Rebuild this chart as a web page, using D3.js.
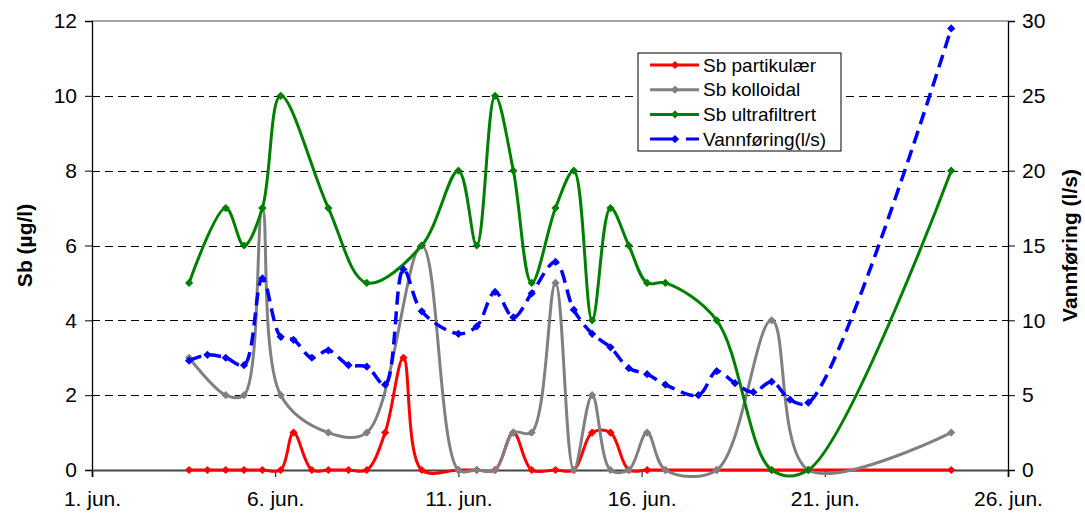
<!DOCTYPE html>
<html>
<head>
<meta charset="utf-8">
<script src="https://cdn.jsdelivr.net/npm/d3@7"></script>
<style>
  body { margin: 0; background: #fff; }
  svg { display: block; font-family: "Liberation Sans", Arial, sans-serif; }
</style>
</head>
<body>
<div id="chart"></div>
<script>
'use strict';

//sample times, day of June (fractional)
const times = [3.65, 4.15, 4.65, 5.15, 5.65, 6.15, 6.5, 7.0, 7.45, 8.0, 8.5, 9.0, 9.5, 10.0,
               11.0, 11.5, 12.0, 12.5, 13.0, 13.65, 14.15, 14.65, 15.15, 15.65, 16.15, 16.65,
               17.55, 18.05, 18.55, 19.05, 19.55, 20.05, 20.55, 24.45];

//Sb in ug/l, null = no sample
const partikulaer = [0, 0, 0, 0, 0, 0, 1, 0, 0, 0, 0, 1, 3, 0,
                     0, 0, 0, 1, 0, 0, 0, 1, 1, 0, 0, 0,
                     null, 0, null, null, 0, null, 0, 0];
const kolloidal   = [3, null, 2, 2, 7, 2, null, null, 1, null, 1, null, null, 6,
                     0, 0, 0, 1, 1, 5, 0, 2, 0, 0, 1, 0,
                     null, 0, null, null, 4, null, 0, 1];
const ultrafilt   = [5, null, 7, 6, 7, 10, null, null, 7, null, 5, null, null, 6,
                     8, 6, 10, 8, 5, 7, 8, 4, 7, 6, 5, 5,
                     null, 4, null, null, 0, null, 0, 8];
//water flow l/s
const vannforing  = [7.3, 7.7, 7.5, 7.0, 12.8, 8.9, 8.7, 7.5, 8.0, 7.0, 6.9, 5.7, 13.4, 10.6,
                     9.1, 9.6, 11.9, 10.2, 11.8, 13.9, 10.7, 9.1, 8.2, 6.8, 6.4, 5.7,
                     5.0, 6.6, 5.8, 5.2, 5.9, 4.7, 4.5, 29.5];

const xTicks = [1, 6, 11, 16, 21, 26];
const yTicksLeft = [0, 2, 4, 6, 8, 10, 12];
const yTicksRight = [0, 5, 10, 15, 20, 25, 30];

const seriesNames = ['Sb partikulær', 'Sb kolloidal', 'Sb ultrafiltrert', 'Vannføring(l/s)'];
const seriesValues = [partikulaer, kolloidal, ultrafilt, vannforing];
const seriesColours = ['#ff0000', '#808080', '#008000', '#0000ff'];

let width = 1085, height = 515;
let margin = {top: 21, right: 77, bottom: 45, left: 92};

let svg = d3.select('#chart').append('svg').attr('width', width).attr('height', height);

let x  = d3.scaleLinear().domain([1, 26]).range([margin.left, width - margin.right]);
let yL = d3.scaleLinear().domain([0, 12]).range([height - margin.bottom, margin.top]);
let yR = d3.scaleLinear().domain([0, 30]).range([height - margin.bottom, margin.top]);

//gridlines
svg.append('g').selectAll('line').data([2, 4, 6, 8, 10]).join('line')
  .attr('x1', margin.left).attr('x2', width - margin.right)
  .attr('y1', d => Math.round(yL(d)) + 0.5).attr('y2', d => Math.round(yL(d)) + 0.5)
  .attr('stroke', '#000').attr('stroke-width', 1).attr('stroke-dasharray', '8,5');

//top border of plot area
svg.append('line')
  .attr('x1', margin.left).attr('x2', width - margin.right)
  .attr('y1', yL(12)).attr('y2', yL(12))
  .attr('stroke', '#888').attr('stroke-width', 1.5);

//axes
let leftAxis = d3.axisLeft(yL).tickValues(yTicksLeft).tickSize(7).tickPadding(8);
let gl = svg.append('g').attr('transform', `translate(${margin.left},0)`).call(leftAxis);

let rightAxis = d3.axisRight(yR).tickValues(yTicksRight).tickSize(7).tickPadding(7);
let gr = svg.append('g').attr('transform', `translate(${width - margin.right},0)`).call(rightAxis);

let bottomAxis = d3.axisBottom(x).tickValues(xTicks).tickSize(7).tickPadding(10)
  .tickFormat(d => d + '. jun.');
let gb = svg.append('g').attr('transform', `translate(0,${height - margin.bottom})`).call(bottomAxis);

[gl, gr, gb].forEach(g => {
  g.select('.domain').attr('stroke', '#000').attr('stroke-width', 1.3);
  g.selectAll('.tick line').attr('stroke', '#000');
  g.selectAll('.tick text').attr('font-size', 21).attr('fill', '#000')
    .attr('font-family', '"Liberation Sans", Arial, sans-serif');
});
gb.select('.domain').attr('stroke', '#444').attr('stroke-width', 2);
gb.selectAll('.tick text').attr('dy', '0.9em');

//axis titles
svg.append('text')
  .attr('transform', `translate(32,${(margin.top + height - margin.bottom) / 2}) rotate(-90)`)
  .attr('text-anchor', 'middle').attr('font-size', 21).attr('font-weight', 'bold')
  .text('Sb (µg/l)');
svg.append('text')
  .attr('transform', `translate(1077,${(margin.top + height - margin.bottom) / 2}) rotate(-90)`)
  .attr('text-anchor', 'middle').attr('font-size', 21).attr('font-weight', 'bold')
  .text('Vannføring (l/s)');

//series
let diamond = d3.symbol(d3.symbolSquare, 34);

seriesValues.forEach((vals, i) => {
  let yScale = (i === 3) ? yR : yL;
  let pts = times.map((t, j) => ({t: t, v: vals[j]})).filter(d => d.v !== null);

  let line = d3.line()
    .x(d => x(d.t))
    .y(d => yScale(d.v))
    .curve(d3.curveCatmullRom.alpha(0.5));

  svg.append('path')
    .attr('d', line(pts))
    .attr('fill', 'none')
    .attr('stroke', seriesColours[i])
    .attr('stroke-width', i === 3 ? 3.5 : 3)
    .attr('stroke-dasharray', i === 3 ? '13,7' : null);

  svg.append('g').selectAll('path').data(pts).join('path')
    .attr('d', diamond)
    .attr('transform', d => `translate(${x(d.t)},${yScale(d.v)}) rotate(45)`)
    .attr('fill', seriesColours[i]);
});

//legend
let legend = svg.append('g').attr('transform', 'translate(638,53)');
legend.append('rect').attr('width', 203).attr('height', 98)
  .attr('fill', '#fff').attr('stroke', '#000').attr('stroke-width', 1);

seriesNames.forEach((name, i) => {
  let ly = 12 + i * 24.7;
  legend.append('line')
    .attr('x1', 12).attr('x2', 61).attr('y1', ly).attr('y2', ly)
    .attr('stroke', seriesColours[i]).attr('stroke-width', 3)
    .attr('stroke-dasharray', i === 3 ? '26,10' : null);
  legend.append('path')
    .attr('d', diamond)
    .attr('transform', `translate(37,${ly}) rotate(45)`)
    .attr('fill', seriesColours[i]);
  legend.append('text')
    .attr('x', 65).attr('y', ly).attr('dy', '0.35em')
    .attr('font-size', 19)
    .text(name);
});
</script>
</body>
</html>
